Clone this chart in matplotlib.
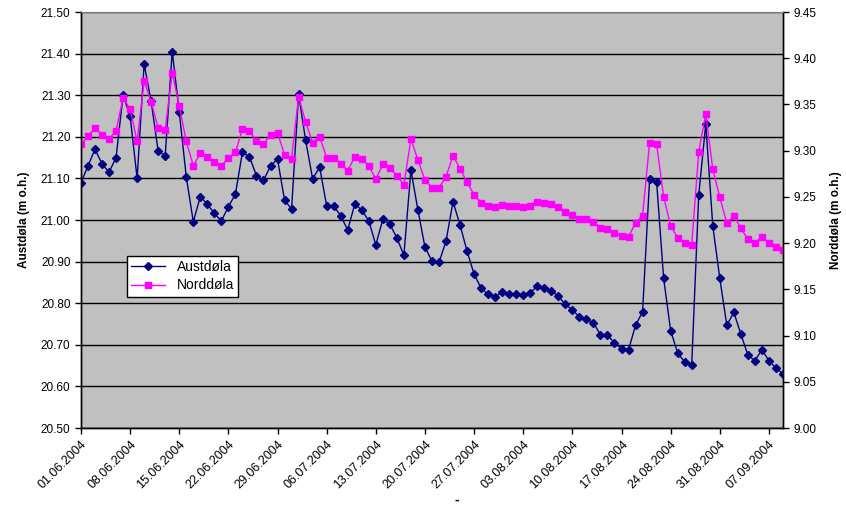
import numpy as np
import pandas as pd
import matplotlib
matplotlib.use("Agg")
import matplotlib.pyplot as plt

plt.rcParams['font.family'] = ['Liberation Sans', 'DejaVu Sans']

# daily readings 01.06.2004 - 09.09.2004
dates = pd.date_range("2004-06-01", "2004-09-09", freq="D")

austdola = [21.09, 21.13, 21.17, 21.135, 21.115, 21.15, 21.30, 21.25, 21.10, 21.375,
            21.285, 21.165, 21.155, 21.405, 21.26, 21.104, 20.996, 21.056, 21.038, 21.016,
            20.998, 21.032, 21.062, 21.163, 21.152, 21.107, 21.095, 21.130, 21.146, 21.048,
            21.026, 21.302, 21.192, 21.099, 21.127, 21.034, 21.034, 21.010, 20.976, 21.038,
            21.024, 20.998, 20.940, 21.002, 20.990, 20.957, 20.915, 21.120, 21.024, 20.935,
            20.901, 20.898, 20.949, 21.044, 20.988, 20.925, 20.870, 20.836, 20.821, 20.816,
            20.826, 20.821, 20.821, 20.819, 20.825, 20.841, 20.836, 20.830, 20.817, 20.797,
            20.784, 20.767, 20.762, 20.753, 20.724, 20.724, 20.704, 20.691, 20.688, 20.747,
            20.779, 21.099, 21.091, 20.860, 20.734, 20.680, 20.659, 20.652, 21.060, 21.231,
            20.986, 20.860, 20.747, 20.778, 20.726, 20.675, 20.662, 20.688, 20.662, 20.644,
            20.630]

norddola = [9.307, 9.3155, 9.325, 9.317, 9.3126, 9.3216, 9.357, 9.345, 9.310, 9.3757,
            9.3526, 9.3245, 9.3227, 9.3843, 9.3486, 9.310, 9.2837, 9.297, 9.2935, 9.288,
            9.2837, 9.2917, 9.2982, 9.3234, 9.3213, 9.3105, 9.3072, 9.317, 9.3194, 9.2956,
            9.2913, 9.3584, 9.3313, 9.3086, 9.315, 9.2924, 9.2924, 9.2859, 9.2783, 9.2935,
            9.2906, 9.2837, 9.2693, 9.2852, 9.2816, 9.2729, 9.2632, 9.3126, 9.2899, 9.2683,
            9.260, 9.260, 9.2718, 9.2945, 9.2805, 9.2658, 9.2524, 9.2437, 9.2405, 9.2394,
            9.2415, 9.2405, 9.2405, 9.2394, 9.2405, 9.2448, 9.2437, 9.2426, 9.2394, 9.2340,
            9.2307, 9.2264, 9.2257, 9.2231, 9.2166, 9.2153, 9.2106, 9.2077, 9.2066, 9.2221,
            9.2296, 9.3086, 9.3069, 9.2502, 9.2188, 9.2058, 9.1998, 9.1979, 9.2989, 9.3397,
            9.2802, 9.2495, 9.2217, 9.2293, 9.2163, 9.2041, 9.2004, 9.2069, 9.2004, 9.1961,
            9.1925]

left_ticks = np.arange(20.50, 21.501, 0.10)
right_ticks = np.arange(9.00, 9.451, 0.05)
week_ticks = pd.date_range("2004-06-01", "2004-09-07", freq="7D")

fig = plt.figure(figsize=(8.46, 5.07), dpi=100)
ax = fig.add_axes([0.0957, 0.1558, 0.8298, 0.8205])
ax.set_facecolor('#C0C0C0')

l1, = ax.plot(dates, austdola, color='#000080', lw=1.0, marker='D', ms=3.8,
              label='Austdøla')
ax.set_ylim(20.50, 21.50)
ax.set_yticks(left_ticks)
ax.set_yticklabels(['%.2f' % v for v in left_ticks], fontsize=8.5)
ax.yaxis.grid(True, color='black', lw=1.0)
ax.set_axisbelow(True)
ax.set_xlim(dates[0], dates[-1])
ax.set_xticks(week_ticks)
ax.set_xticklabels([d.strftime('%d.%m.%Y') for d in week_ticks], rotation=45,
                   ha='right', rotation_mode='anchor', fontsize=9)
ax.tick_params(axis='both', direction='out', length=4, width=1, colors='black')
ax.set_ylabel('Austdøla (m o.h.)', fontsize=8.5, fontweight='bold', labelpad=8)
ax.set_xlabel('-', fontsize=10, fontweight='bold')
ax.xaxis.set_label_coords(0.535, -0.155)

ax2 = ax.twinx()
l2, = ax2.plot(dates, norddola, color='#FF00FF', lw=1.0, marker='s', ms=4.2,
               label='Norddøla')
ax2.set_ylim(9.00, 9.45)
ax2.set_yticks(right_ticks)
ax2.set_yticklabels(['%.2f' % v for v in right_ticks], fontsize=8.5)
ax2.tick_params(axis='y', direction='out', length=4, width=1)
ax2.set_ylabel('Norddøla (m o.h.)', fontsize=8.5, fontweight='bold',
               rotation=90, labelpad=10)

for a in (ax, ax2):
    a.spines['top'].set_color('#808080')
    for s in ('left', 'right', 'bottom'):
        a.spines[s].set_color('black')
        a.spines[s].set_linewidth(1.0)

leg = ax2.legend(handles=[l1, l2], loc='upper left',
                 bbox_to_anchor=(0.055, 0.43), fontsize=10, frameon=True,
                 fancybox=False, edgecolor='black', framealpha=1.0,
                 handlelength=2.5, borderpad=0.3, labelspacing=0.3)
leg.get_frame().set_linewidth(1.0)

fig.savefig('out.png', dpi=100)
